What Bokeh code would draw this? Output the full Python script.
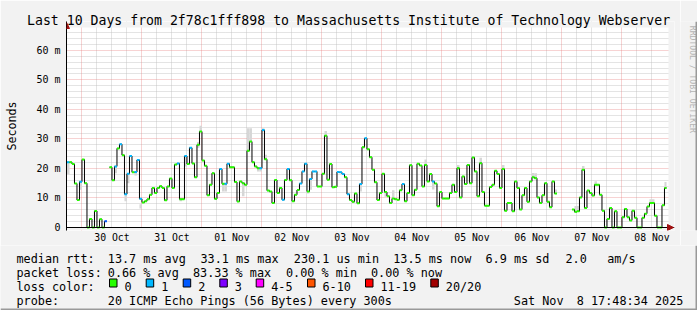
from datetime import datetime, timedelta
import math
from bokeh.plotting import figure
from bokeh.layouts import column, row
from bokeh.models import (Range1d, FixedTicker, Grid, DatetimeTickFormatter, BoxAnnotation,
                          Arrow, NormalHead, ColumnDataSource, Span)
from bokeh.core.properties import value
from bokeh.embed import file_html
from bokeh.resources import INLINE

FONT = "DejaVu Sans Mono"
BG = "#F2F2F2"

title_text = "Last 10 Days from 2f78c1fff898 to Massachusetts Institute of Technology Webserver"
end_time = datetime(2025, 11, 8, 17, 48, 34)
start_time = end_time - timedelta(days=10)
first_hour = datetime(2025, 10, 29, 18, 0, 0)   # first hourly step

tick_days = ["2025-10-30", "2025-10-31", "2025-11-01", "2025-11-02", "2025-11-03",
             "2025-11-04", "2025-11-05", "2025-11-06", "2025-11-07", "2025-11-08"]
y_ticks = [0, 10, 20, 30, 40, 50, 60]
y_tick_labels = ["0", "10 m", "20 m", "30 m", "40 m", "50 m", "60 m"]

# hourly median RTT (ms), starting 29 Oct 18:00; None = no data
median_ms = [
    22.1, 22.1, 21.5, 14.9, 9.3, 15.5, 23.0, 15.0, 0.0, 2.9, 0.0, 5.6,
    0.0, 2.8, 0.0, 2.1, None, 20.4, 16.0, 20.7, 26.8, 28.2, 24.5, 11.3,
    18.2, 24.2, 18.7, 18.8, 22.9, 9.7, 8.5, 8.9, 9.6, 11.1, 13.4, 11.7,
    13.4, 14.0, 13.4, 9.2, 13.9, 16.6, 13.4, 21.3, 21.7, 9.6, 9.6, 24.2,
    21.5, 27.0, 21.7, 17.0, 28.0, 32.5, 22.7, 20.9, 10.9, 14.5, 18.4, 9.7,
    11.7, 19.8, 14.8, 14.8, 21.6, 20.4, 20.4, 15.4, 8.8, 15.6, 15.0, 14.5,
    26.0, 29.1, 22.1, 20.7, 20.1, 20.1, 33.0, 23.1, 12.5, 12.2, 8.3, 16.1,
    11.7, 13.4, 9.4, 16.1, 19.8, 16.0, 8.9, 11.1, 12.7, 14.9, 19.0, 21.6,
    12.2, 16.4, 19.0, 19.0, 13.9, 13.9, 18.2, 31.1, 16.2, 21.5, 13.6, 13.8,
    18.8, 18.7, 18.1, 17.0, 11.3, 9.3, 8.7, 11.5, 8.2, 14.7, 27.2, 30.2,
    26.5, 23.8, 19.6, 15.3, 9.3, 11.7, 18.2, 12.0, 10.6, 8.3, 9.8, 9.6,
    9.4, 12.6, 14.7, 8.9, 11.7, 21.1, 10.9, 12.8, 21.6, 21.0, 13.9, 21.2,
    15.6, 18.1, 15.6, 14.9, 7.2, 12.0, 9.8, 9.8, 9.8, 11.7, 14.5, 12.0,
    20.1, 10.2, 17.3, 14.7, 21.2, 15.0, 23.7, 19.0, 10.6, 21.8, 12.0, 7.4,
    7.4, 13.7, 14.5, 19.2, 18.1, 13.4, 19.8, 5.7, 8.3, 8.3, 5.5, 15.6,
    13.4, 6.1, 10.9, 13.4, 8.7, 15.6, 17.0, 16.7, 10.2, 8.3, 10.9, 15.0,
    8.7, 6.9, 15.6, 11.5, None, None, None, None, None, None, 6.1, 5.3,
    5.5, 10.2, 19.6, 6.6, 12.5, 11.7, 10.8, 14.5, 14.5, 11.1, 5.7, 0.0,
    2.9, 6.6, 0.0, 5.5, 0.0, 0.0, 3.5, 6.3, 3.5, 2.4, 5.7, 3.3,
    0.0, 0.0, 3.3, 4.7, 7.1, 8.3, 8.3, 4.0, 0.0, 0.0, 7.5, 13.4,
]
# hours (index into median_ms) whose loss bucket is "1" / "2"; all others are "0"
loss_one_hours = [0, 5, 19, 21, 23, 24, 25, 27, 28, 29, 44, 47, 49, 61, 63, 64, 77, 78,
                  86, 88, 93, 94, 95, 97, 98, 99, 108, 109, 110, 112, 117, 119, 134, 146]
loss_two_hours = [15]

# smoke (spread of the pings) for hours where it is visible
smoke_hour = [0, 5, 19, 23, 24, 27, 29, 45, 47, 52, 53, 62, 63, 70, 72, 73, 76, 77, 78, 79,
              96, 97, 103, 117, 127, 130, 143, 146, 156, 165, 174, 186, 187, 195, 203, 204,
              206, 211, 233, 234, 239]
smoke_lo = [18.0, 12.8, 18.4, 8.9, 15.0, 17.6, 6.4, 8.9, 20.7, 27.0, 32.5, 12.2, 12.2, 10.6,
            25.7, 29.1, 19.0, 19.0, 32.5, 23.1, 11.5, 12.8, 31.1, 12.2, 10.4, 9.8, 21.2, 12.9,
            19.5, 21.8, 19.8, 17.0, 16.7, 11.5, 5.3, 5.5, 19.6, 14.5, 8.3, 8.3, 13.4]
smoke_hi = [22.1, 15.5, 20.7, 11.3, 18.2, 18.8, 7.9, 9.6, 24.2, 29.0, 34.5, 14.8, 14.8, 15.0,
            33.6, 33.6, 20.1, 20.1, 33.6, 24.6, 12.2, 16.4, 32.7, 14.7, 12.0, 12.6, 23.0, 15.6,
            21.2, 23.6, 21.2, 18.5, 18.4, 12.9, 7.3, 7.3, 20.8, 15.7, 9.6, 9.6, 15.4]

loss_labels = ["0", "1", "2", "3", "4-5", "6-10", "11-19", "20/20"]
loss_colors = ["#26ff00", "#00b8ff", "#0059ff", "#7e00ff", "#ff00ff", "#ff5500", "#ff0000", "#a10000"]

legend_rtt = ["median rtt:", "13.7 ms avg", "33.1 ms max", "230.1 us min", "13.5 ms now",
              "6.9 ms sd", "2.0", "am/s"]
legend_loss = ["packet loss:", "0.66 % avg", "83.33 % max", "0.00 % min", "0.00 % now"]
legend_color = ["loss color:"]
legend_probe = ["probe:", "20 ICMP Echo Pings (56 Bytes) every 300s", "Sat Nov", "8 17:48:34 2025"]
watermark = "RRDTOOL / TOBI OETIKER"

# ---------------------------------------------------------------------------
EPOCH = datetime(1970, 1, 1)
def ms(dt):
    return (dt - EPOCH).total_seconds() * 1000.0

HOUR = 3600 * 1000.0
start_ms = ms(start_time)
end_ms = ms(end_time)
t0 = ms(first_hour)

W_TOTAL, H_TOTAL = 697, 310
MAIN_W, MAIN_H = 680, 245
SIDE_W = W_TOTAL - MAIN_W
LEG_H = H_TOTAL - MAIN_H

PX_PER_MS = 2.967                 # vertical pixels per millisecond of RTT
LEFT, RIGHT, TOP, BOTTOM = 66, 6, 21, 14
frame_w = MAIN_W - LEFT - RIGHT   # 608: 602 px of canvas + 6 px for the arrow
frame_h = MAIN_H - TOP - BOTTOM   # 210: 201 px of canvas + 6 above + 3 below
ms_per_px = (end_ms - start_ms) / 600.0
canvas_right = start_ms + 602 * ms_per_px
x_end = start_ms + frame_w * ms_per_px
canvas_top = 201 / PX_PER_MS
y_start = -3 / PX_PER_MS
y_end = y_start + frame_h / PX_PER_MS

p = figure(width=MAIN_W, height=MAIN_H, x_axis_type="datetime",
           x_range=Range1d(start_ms, x_end), y_range=Range1d(y_start, y_end),
           output_backend="svg", toolbar_location=None,
           min_border_left=LEFT, min_border_right=RIGHT,
           min_border_top=TOP, min_border_bottom=BOTTOM,
           background_fill_color="#FFFFFF", border_fill_color=BG,
           outline_line_color=None)
p.xgrid.visible = False
p.ygrid.visible = False

# title
p.title.text = title_text
p.title.text_font = FONT
p.title.text_font_size = "13.2px"
p.title.text_font_style = "normal"
p.title.text_color = "#000000"
p.title.align = "left"
p.title.offset = -39.5
p.title.vertical_align = "bottom"
p.title.standoff = -13

# grids
six_hours = []
t = datetime(2025, 10, 29, 18)
while t < end_time:
    if t.hour != 0:
        six_hours.append(ms(t))
    t += timedelta(hours=6)
midnights = [ms(datetime.strptime(d, "%Y-%m-%d")) for d in tick_days]
noons = [m + 12 * HOUR for m in midnights]
minor_y = [v for v in range(2, 68, 2) if v % 10 != 0]
major_y = [10, 20, 30, 40, 50, 60]

for dim, ticks, col, alpha in [(0, six_hours, "#BDBDBD", 0.8), (1, minor_y, "#BDBDBD", 0.8),
                               (0, midnights, "#E88080", 0.7), (1, major_y, "#E88080", 0.7)]:
    p.add_layout(Grid(dimension=dim, ticker=FixedTicker(ticks=ticks), grid_line_color=col,
                      grid_line_alpha=alpha, grid_line_dash="1 1", grid_line_width=1))

# hide everything outside rrdtool's canvas (strips kept only for the axis arrows)
for kw in [dict(left=canvas_right), dict(bottom=canvas_top), dict(top=0)]:
    p.add_layout(BoxAnnotation(fill_color=BG, fill_alpha=1.0, line_color=None,
                               level="underlay", **kw))

# smoke
p.quad(left=[t0 + h * HOUR for h in smoke_hour],
       right=[min(t0 + (h + 1) * HOUR, end_ms) for h in smoke_hour],
       bottom=smoke_lo, top=smoke_hi, fill_color="#D6D6D6", line_color=None)

# median step line (black) built from runs of consecutive hours
xs, ys = [], []
cur_x, cur_y = [], []
for i, v in enumerate(median_ms):
    if v is None:
        if cur_x:
            xs.append(cur_x); ys.append(cur_y)
        cur_x, cur_y = [], []
        continue
    a = t0 + i * HOUR
    b = min(t0 + (i + 1) * HOUR, end_ms)
    cur_x += [a, b]
    cur_y += [v, v]
if cur_x:
    xs.append(cur_x); ys.append(cur_y)
p.multi_line(xs=xs, ys=ys, line_color="#000000", line_width=1)

# loss-coloured median marks
seg = dict(x0=[], x1=[], y=[], c=[])
for i, v in enumerate(median_ms):
    if v is None:
        continue
    bucket = 2 if i in loss_two_hours else (1 if i in loss_one_hours else 0)
    seg["x0"].append(t0 + i * HOUR)
    seg["x1"].append(min(t0 + (i + 1) * HOUR, end_ms))
    seg["y"].append(v)
    seg["c"].append(loss_colors[bucket])
p.segment(x0="x0", x1="x1", y0="y", y1="y", line_color="c", line_width=2,
          line_cap="butt", source=ColumnDataSource(seg))

# axes
xa = p.xaxis[0]
xa.ticker = FixedTicker(ticks=noons)
fmt = "%d %b"
xa.formatter = DatetimeTickFormatter(microseconds=fmt, milliseconds=fmt, seconds=fmt,
                                     minsec=fmt, minutes=fmt, hourmin=fmt, hours=fmt,
                                     days=fmt, months=fmt, years=fmt)
xa.major_label_text_font = FONT
xa.major_label_text_font_size = "9.8px"
xa.major_label_text_color = "#000000"
xa.major_label_standoff = 1
xa.major_tick_out = 0
xa.major_tick_in = 0
xa.minor_tick_out = 0
xa.minor_tick_in = 0
xa.major_tick_line_color = None
xa.minor_tick_line_color = None
xa.axis_line_color = None

ya = p.yaxis[0]
ya.ticker = FixedTicker(ticks=y_ticks)
ya.major_label_overrides = {v: s for v, s in zip(y_ticks, y_tick_labels)}
ya.major_label_text_font = FONT
ya.major_label_text_font_size = "10px"
ya.major_label_text_color = "#000000"
ya.major_label_standoff = 6
ya.major_tick_out = 0
ya.major_tick_in = 0
ya.minor_tick_out = 0
ya.minor_tick_in = 0
ya.major_tick_line_color = None
ya.minor_tick_line_color = None
ya.axis_line_color = "#000000"
ya.axis_label = "Seconds"
ya.axis_label_text_font = FONT
ya.axis_label_text_font_size = "11.7px"
ya.axis_label_text_font_style = "normal"
ya.axis_label_text_color = "#000000"
ya.axis_label_standoff = 14

# x axis line and the two arrows
p.add_layout(Span(location=0, dimension="width", line_color="#000000", line_width=1))
arrow_px = 5
p.add_layout(Arrow(x_start=canvas_right, y_start=0, x_end=canvas_right + arrow_px * ms_per_px,
                   y_end=0, line_color="#000000", line_width=1,
                   end=NormalHead(size=6, fill_color="#a01010", line_color="#a01010")))
p.add_layout(Arrow(x_start=start_ms, y_start=canvas_top, x_end=start_ms,
                   y_end=canvas_top + arrow_px / PX_PER_MS, line_color="#000000", line_width=1,
                   end=NormalHead(size=6, fill_color="#a01010", line_color="#a01010")))

# right strip with the rrdtool watermark
side = figure(width=SIDE_W, height=MAIN_H, x_range=Range1d(0, SIDE_W), y_range=Range1d(0, MAIN_H),
              output_backend="svg", toolbar_location=None, min_border=0,
              x_axis_location=None, y_axis_location=None,
              background_fill_color=BG, border_fill_color=BG, outline_line_color=None)
side.grid.visible = False
side.text(x=[12.5], y=[MAIN_H - 5], text=[watermark], angle=-math.pi / 2,
          text_font=value(FONT), text_font_size="8.1px", text_color="#B4B4B4",
          text_align="left", text_baseline="middle")
side.quad(left=[SIDE_W - 2], right=[SIDE_W], bottom=[0], top=[MAIN_H],
          fill_color="#999999", line_color=None)

# legend strip below the graph
leg = figure(width=W_TOTAL, height=LEG_H, x_range=Range1d(0, W_TOTAL), y_range=Range1d(0, LEG_H),
             output_backend="svg", toolbar_location=None, min_border=0,
             x_axis_location=None, y_axis_location=None,
             background_fill_color=BG, border_fill_color=BG, outline_line_color=None)
leg.grid.visible = False

def ly(canvas_y):
    return H_TOTAL - canvas_y

row_y = [258.3, 272.3, 286.3, 300.3]
tx, ty, tt = [], [], []
for texts, xpos, yy in [(legend_rtt, [16, 107.3, 200, 293.3, 392.7, 485, 565, 606.7], row_y[0]),
                        (legend_loss, [16, 107.3, 192.5, 285.5, 370.5], row_y[1]),
                        (legend_color, [16], row_y[2]),
                        (loss_labels, [124, 160.7, 197.7, 234.3, 270.7, 322, 380, 445.3], row_y[2]),
                        (legend_probe, [16, 107.3, 513.3, 576.3], row_y[3])]:
    for s, x in zip(texts, xpos):
        tx.append(x); ty.append(ly(yy)); tt.append(s)
leg.text(x=tx, y=ty, text=tt, text_font=value(FONT), text_font_size="11.8px",
         text_color="#000000", text_align="left", text_baseline="alphabetic")

sw_x = [124, 160.7, 197.7, 234.3, 270.7, 322, 380, 445.3]
leg.quad(left=[x - 15 for x in sw_x], right=[x - 7.5 for x in sw_x],
         top=[ly(278.5)] * len(sw_x), bottom=[ly(286.5)] * len(sw_x),
         fill_color=loss_colors, line_color="#000000", line_width=1)
leg.quad(left=[0, W_TOTAL - 2], right=[W_TOTAL, W_TOTAL], bottom=[0, 0], top=[2, LEG_H],
         fill_color="#999999", line_color=None)

layout = column(row(p, side), leg)
open("out.html", "w").write(file_html(layout, INLINE))
